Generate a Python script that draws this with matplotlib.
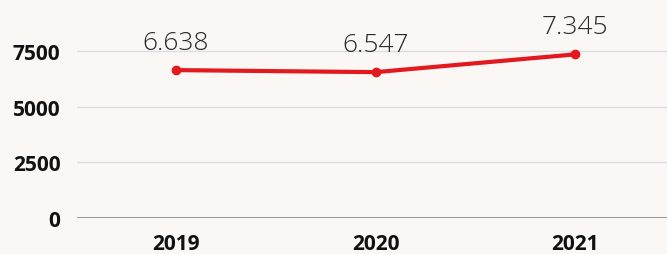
import matplotlib
matplotlib.use("Agg")
import matplotlib.pyplot as plt

years = ["2019", "2020", "2021"]
values = [6638, 6547, 7345]
labels = ["6.638", "6.547", "7.345"]
yticks = [0, 2500, 5000, 7500]

bg = "#FAF7F5"
red = "#E3191F"

fig = plt.figure(figsize=(6.67, 2.55), dpi=100, facecolor=bg)
ax = fig.add_axes([77/667, 1 - 219/255, 590/667, 219/255])
ax.set_facecolor(bg)

x = list(range(len(years)))
ax.plot(x, values, color=red, lw=3, marker="o", ms=6, solid_capstyle="round", zorder=3)
for xi, v, lab in zip(x, values, labels):
    ax.annotate(lab, (xi, v), xytext=(0, 11), textcoords="offset points",
                ha="center", va="bottom", fontsize=19, family="Open Sans",
                fontweight="light", color="#2A2A2A")

ax.set_ylim(0, 9830)
ax.set_xlim(-0.496, 2.46)
ax.set_yticks(yticks)
ax.set_yticklabels([str(t) for t in yticks], family="Open Sans", fontweight="bold",
                   fontsize=15, color="#111111")
ax.set_xticks(x)
ax.set_xticklabels(years, family="Open Sans", fontweight="bold", fontsize=15, color="#111111")
ax.tick_params(length=0)
ax.tick_params(axis="y", pad=12)
ax.tick_params(axis="x", pad=11)
ax.yaxis.grid(True, color="#DDDDDD", lw=1)
ax.set_axisbelow(True)
for s in ax.spines.values():
    s.set_visible(False)
ax.axhline(0, color="#888888", lw=1.2, zorder=2)

fig.savefig("out.png", dpi=100, facecolor=bg)
